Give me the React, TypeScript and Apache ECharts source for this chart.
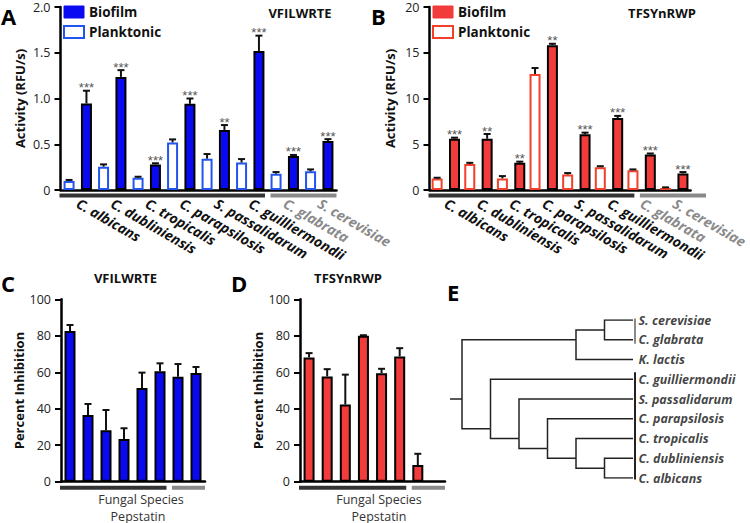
import React, { useEffect, useRef } from "react";
import * as echarts from "echarts";

const FONT = "'Open Sans', 'Noto Sans', sans-serif";

// ---------- data ----------
const species = [
  "C. albicans",
  "C. dubliniensis",
  "C. tropicalis",
  "C. parapsilosis",
  "S. passalidarum",
  "C. guilliermondii",
  "C. glabrata",
  "S. cerevisiae",
];
const fungalGroupSize = 6; // first 6 species in the dark group, rest in the grey group

// Panel A – VFILWRTE activity (RFU/s)
const vfBiofilm = [0.945, 1.236, 0.28, 0.942, 0.655, 1.52, 0.371, 0.535];
const vfBiofilmErr = [0.14, 0.074, 0.012, 0.058, 0.055, 0.167, 0.012, 0.021];
const vfPlank = [0.098, 0.255, 0.135, 0.52, 0.342, 0.3, 0.178, 0.204];
const vfPlankErr = [0.012, 0.025, 0.01, 0.033, 0.051, 0.038, 0.018, 0.021];
const vfStars = ["***", "***", "***", "***", "**", "***", "***", "***"];

// Panel B – TFSYnRWP activity (RFU/s)
const tfBiofilm = [5.6, 5.6, 2.97, 15.83, 6.09, 7.86, 3.88, 1.81];
const tfBiofilmErr = [0.12, 0.52, 0.13, 0.15, 0.18, 0.24, 0.11, 0.15];
const tfPlank = [1.27, 2.83, 1.27, 12.68, 1.7, 2.5, 2.17, 0.22];
const tfPlankErr = [0.07, 0.14, 0.25, 0.65, 0.15, 0.1, 0.08, 0.07];
const tfStars = ["***", "**", "**", "**", "***", "***", "***", "***"];

// Panels C / D – percent inhibition by pepstatin
const vfInhib = [82.6, 36.6, 28.2, 23.4, 51.4, 60.5, 57.6, 59.6];
const vfInhibErr = [3.3, 6.0, 11.1, 5.9, 8.4, 4.4, 6.9, 3.3];
const tfInhib = [68.1, 57.7, 42.3, 80.0, 59.4, 68.7, 9.1, null];
const tfInhibErr = [2.4, 4.0, 16.4, 0.3, 2.5, 4.5, 6.2, null];

// Panel E – cladogram
type TNode = { name?: string; children?: TNode[] };
const tree: TNode = {
  children: [
    {
      children: [
        { children: [{ name: "S. cerevisiae" }, { name: "C. glabrata" }] },
        { name: "K. lactis" },
      ],
    },
    {
      children: [
        { name: "C. guilliermondii" },
        {
          children: [
            { name: "S. passalidarum" },
            {
              children: [
                { name: "C. parapsilosis" },
                {
                  children: [
                    { name: "C. tropicalis" },
                    { children: [{ name: "C. dubliniensis" }, { name: "C. albicans" }] },
                  ],
                },
              ],
            },
          ],
        },
      ],
    },
  ],
};
const treeGroups = [
  { from: "S. cerevisiae", to: "C. glabrata", grey: true },
  { from: "C. guilliermondii", to: "C. albicans", grey: false },
];

// ---------- style constants ----------
const BLUE = "#0a0af2";
const BLUE_EDGE = "#2255f0";
const RED = "#f23b3b";
const RED_EDGE = "#f2402a";
const DARK = "#333333";
const GREY = "#8a8a8a";

const G_A = { left: 60.5, top: 7, width: 276, height: 183 };
const G_B = { left: 429.5, top: 7, width: 276.5, height: 183 };
const G_C = { left: 61, top: 299.3, width: 144, height: 182.4 };
const G_D = { left: 300, top: 299.3, width: 145, height: 182.4 };
const G_E = { left: 447.75, top: 320, width: 185.25, height: 158 };

const PAIR_W = 11;
const PAIR_GAP = 0.58;
const PAIR_OFF = (PAIR_W * (1 + PAIR_GAP)) / 2;

function errSeries(
  xi: number,
  vals: (number | null)[],
  errs: (number | null)[],
  stars: string[] | null,
  off: number
) {
  const data: number[][] = [];
  const lab: string[] = [];
  vals.forEach((v, i) => {
    if (v == null || errs[i] == null) return;
    data.push([i, v, errs[i] as number]);
    lab.push(stars ? stars[i] : "");
  });
  return {
    type: "custom",
    xAxisIndex: xi,
    yAxisIndex: xi,
    z: 5,
    silent: true,
    data,
    renderItem: (params: any, api: any) => {
      const i = api.value(0);
      const v = api.value(1);
      const e = api.value(2);
      const b = api.coord([i, v]);
      const t = api.coord([i, v + e]);
      const x = b[0] + off;
      const cap = 3.5;
      const children: any[] = [
        { type: "line", shape: { x1: x, y1: b[1], x2: x, y2: t[1] }, style: { stroke: "#111", lineWidth: 2 } },
        { type: "line", shape: { x1: x - cap, y1: t[1], x2: x + cap, y2: t[1] }, style: { stroke: "#111", lineWidth: 2 } },
      ];
      const s = lab[params.dataIndex];
      if (s) {
        children.push({
          type: "text",
          x,
          y: t[1] + 3.5,
          style: {
            text: s,
            align: "center",
            verticalAlign: "bottom",
            fill: "#555",
            fontSize: 13,
            fontFamily: "'Liberation Sans', sans-serif",
          },
        });
      }
      return { type: "group", children };
    },
  };
}

function groupBars(g: { left: number; top: number; width: number; height: number }, n: number, dark: number, y: number) {
  const cat = g.width / n;
  const axisY = g.top + g.height;
  return [
    {
      type: "rect",
      shape: { x: g.left - 1, y: axisY + y, width: cat * dark - 1.5, height: 4 },
      style: { fill: DARK },
      silent: true,
    },
    {
      type: "rect",
      shape: { x: g.left + cat * dark + 3, y: axisY + y, width: cat * (n - dark) - 3, height: 4 },
      style: { fill: GREY },
      silent: true,
    },
  ];
}

function valueAxis(gi: number, max: number, interval: number, name: string, nameGap: number, dec: boolean) {
  return {
    type: "value",
    gridIndex: gi,
    min: 0,
    max,
    interval,
    name,
    nameLocation: "middle",
    nameGap,
    nameTextStyle: { fontWeight: "bold", fontSize: 13, color: "#111", fontFamily: FONT },
    axisLine: { show: true, lineStyle: { color: "#000", width: 2.5 } },
    axisTick: { show: true, length: 6, lineStyle: { color: "#000", width: 2 } },
    axisLabel: {
      fontSize: 12.5,
      color: "#222",
      margin: 10,
      fontFamily: FONT,
      formatter: (v: number) => (v === 0 ? "0" : dec ? v.toFixed(1) : String(v)),
    },
    splitLine: { show: false },
  };
}

function speciesAxis(gi: number) {
  return {
    type: "category",
    gridIndex: gi,
    data: species,
    axisLine: { lineStyle: { color: "#000", width: 2.5 } },
    axisTick: { show: false },
    axisLabel: {
      interval: 0,
      rotate: -30,
      margin: 12,
      fontSize: 14,
      fontWeight: "bold",
      fontStyle: "italic",
      fontFamily: FONT,
      color: (_v: any, idx: number) => (idx >= fungalGroupSize ? GREY : "#111"),
    },
  };
}

function plainAxis(gi: number) {
  return {
    type: "category",
    gridIndex: gi,
    data: species,
    axisLine: { lineStyle: { color: "#000", width: 2.5 } },
    axisTick: { show: false },
    axisLabel: { show: false },
  };
}

// tree layout: x = maxHeight - height, y = mean of leaf indices
function layoutTree(root: TNode) {
  const leaves: { name: string; x: number; y: number }[] = [];
  const segs: number[][][] = [];
  const hOf = (n: TNode): number => (n.children ? Math.max(...n.children.map(hOf)) + 1 : 0);
  const H = hOf(root);
  const walk = (n: TNode): { x: number; y: number; leafIdx: number[] } => {
    const x = H - hOf(n);
    if (!n.children) {
      const idx = leaves.length;
      leaves.push({ name: n.name as string, x, y: idx });
      return { x, y: idx, leafIdx: [idx] };
    }
    const kids = n.children.map(walk);
    const all = kids.flatMap((k) => k.leafIdx);
    const y = all.reduce((a, b) => a + b, 0) / all.length;
    kids.forEach((k) => segs.push([[x, y], [x, k.y], [k.x, k.y]]));
    return { x, y, leafIdx: all };
  };
  const r = walk(root);
  segs.push([[r.x - 0.42, r.y], [r.x, r.y]]);
  return { leaves, segs, H };
}

export default function App() {
  const ref = useRef<HTMLDivElement>(null);
  useEffect(() => {
    document.body.style.margin = "0";
    if (!ref.current) return;
    const chart = echarts.init(ref.current, null, { renderer: "svg" });
    const { leaves, segs, H } = layoutTree(tree);
    const leafIndex = (name: string) => leaves.findIndex((l) => l.name === name);

    const letter = (t: string, x: number, y: number) => ({
      type: "text",
      x,
      y,
      style: { text: t, fontSize: 22, fontWeight: "bold", fontFamily: FONT, fill: "#000", align: "left", verticalAlign: "middle" },
      silent: true,
    });
    const title = (t: string, x: number, y: number) => ({
      type: "text",
      x,
      y,
      style: { text: t, fontSize: 13, fontWeight: "bold", fontFamily: FONT, fill: "#111", align: "center", verticalAlign: "middle" },
      silent: true,
    });
    const sub = (t: string, x: number, y: number) => ({
      type: "text",
      x,
      y,
      style: { text: t, fontSize: 12.5, fontFamily: FONT, fill: "#333", align: "center", verticalAlign: "middle" },
      silent: true,
    });

    const legend = (left: number, fill: string, edge: string) => ({
      orient: "vertical",
      left,
      top: 5,
      padding: 0,
      itemWidth: 20,
      itemHeight: 12,
      itemGap: 6,
      icon: "rect",
      selectedMode: false,
      textStyle: { fontWeight: "bold", fontSize: 13.5, color: "#111", fontFamily: FONT },
      data: [
        { name: "Biofilm", itemStyle: { color: fill, borderColor: fill, borderWidth: 1 } },
        { name: "Planktonic", itemStyle: { color: "#fff", borderColor: edge, borderWidth: 2 } },
      ],
    });

    const option: any = {
      animation: false,
      textStyle: { fontFamily: FONT },
      grid: [G_A, G_B, G_C, G_D, G_E].map((g) => ({ ...g, containLabel: false })),
      legend: [legend(G_A.left + 2.5, BLUE, BLUE_EDGE), legend(G_B.left + 2.5, RED, RED_EDGE)],
      xAxis: [
        speciesAxis(0),
        speciesAxis(1),
        plainAxis(2),
        plainAxis(3),
        { type: "value", gridIndex: 4, min: -0.5, max: H, show: false },
      ],
      yAxis: [
        valueAxis(0, 2, 0.5, "Activity (RFU/s)", 34, true),
        valueAxis(1, 20, 5, "Activity (RFU/s)", 33, false),
        valueAxis(2, 100, 20, "Percent Inhibition", 28, false),
        valueAxis(3, 100, 20, "Percent Inhibition", 28, false),
        { type: "value", gridIndex: 4, min: 0, max: leaves.length - 1, inverse: true, show: false },
      ],
      series: [
        {
          type: "bar", name: "Planktonic", xAxisIndex: 0, yAxisIndex: 0, data: vfPlank,
          barWidth: PAIR_W, barGap: `${PAIR_GAP * 100}%`,
          itemStyle: { color: "#fff", borderColor: BLUE_EDGE, borderWidth: 2 },
        },
        {
          type: "bar", name: "Biofilm", xAxisIndex: 0, yAxisIndex: 0, data: vfBiofilm,
          barWidth: PAIR_W, barGap: `${PAIR_GAP * 100}%`,
          itemStyle: { color: BLUE, borderColor: "#000", borderWidth: 2 },
        },
        errSeries(0, vfPlank, vfPlankErr, null, -PAIR_OFF),
        errSeries(0, vfBiofilm, vfBiofilmErr, vfStars, PAIR_OFF),
        {
          type: "bar", name: "Planktonic", xAxisIndex: 1, yAxisIndex: 1, data: tfPlank,
          barWidth: PAIR_W, barGap: `${PAIR_GAP * 100}%`,
          itemStyle: { color: "#fff", borderColor: RED_EDGE, borderWidth: 2 },
        },
        {
          type: "bar", name: "Biofilm", xAxisIndex: 1, yAxisIndex: 1, data: tfBiofilm,
          barWidth: PAIR_W, barGap: `${PAIR_GAP * 100}%`,
          itemStyle: { color: RED, borderColor: "#000", borderWidth: 2 },
        },
        errSeries(1, tfPlank, tfPlankErr, null, -PAIR_OFF),
        errSeries(1, tfBiofilm, tfBiofilmErr, tfStars, PAIR_OFF),
        {
          type: "bar", name: "VFILWRTE inhibition", xAxisIndex: 2, yAxisIndex: 2, data: vfInhib,
          barWidth: 11, itemStyle: { color: BLUE, borderColor: "#000", borderWidth: 2 },
        },
        errSeries(2, vfInhib, vfInhibErr, null, 0),
        {
          type: "bar", name: "TFSYnRWP inhibition", xAxisIndex: 3, yAxisIndex: 3,
          data: tfInhib.map((v) => (v == null ? "-" : v)),
          barWidth: 11, itemStyle: { color: RED, borderColor: "#000", borderWidth: 2 },
        },
        errSeries(3, tfInhib, tfInhibErr, null, 0),
        {
          type: "lines", coordinateSystem: "cartesian2d", xAxisIndex: 4, yAxisIndex: 4,
          polyline: true, silent: true,
          lineStyle: { color: "#222", width: 1.5, opacity: 1, curveness: 0 },
          data: segs.map((s) => ({ coords: s })),
        },
        {
          type: "lines", coordinateSystem: "cartesian2d", xAxisIndex: 4, yAxisIndex: 4,
          silent: true,
          lineStyle: { width: 3, opacity: 1, curveness: 0 },
          data: treeGroups.map((g) => ({
            coords: [
              [H + 0.07, leafIndex(g.from) - 0.35],
              [H + 0.07, leafIndex(g.to) + 0.2],
            ],
            lineStyle: { color: g.grey ? GREY : "#222" },
          })),
        },
        {
          type: "scatter", xAxisIndex: 4, yAxisIndex: 4, symbolSize: 1, silent: true,
          itemStyle: { color: "rgba(0,0,0,0)" },
          label: {
            show: true, position: "right", distance: 5, formatter: "{b}",
            fontWeight: "bold", fontStyle: "italic", fontSize: 12.5, color: "#111", fontFamily: FONT,
          },
          data: leaves.map((l) => ({ name: l.name, value: [l.x, l.y] })),
        },
      ],
      graphic: [
        letter("A", 1, 16),
        letter("B", 371, 16),
        letter("C", 1, 283),
        letter("D", 231, 283),
        letter("E", 447, 292),
        title("VFILWRTE", 300, 13),
        title("TFSYnRWP", 662, 13),
        title("VFILWRTE", 125.5, 277.5),
        title("TFSYnRWP", 348, 277.5),
        sub("Fungal Species", 141, 499),
        sub("Pepstatin", 138, 516),
        sub("Fungal Species", 379, 499),
        sub("Pepstatin", 379, 516),
        ...groupBars(G_A, 8, fungalGroupSize, 3.5),
        ...groupBars(G_B, 8, fungalGroupSize, 3.5),
        ...groupBars(G_C, 8, fungalGroupSize, 4),
        ...groupBars(G_D, 8, fungalGroupSize, 4),
      ],
    };
    chart.setOption(option);
    return () => chart.dispose();
  }, []);
  return <div ref={ref} style={{ width: 750, height: 523 }} />;
}
